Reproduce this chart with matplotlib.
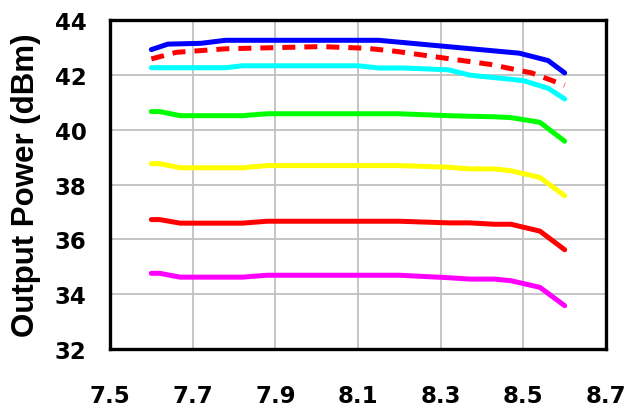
import matplotlib
matplotlib.use("Agg")
import matplotlib.pyplot as plt

# Frequency (GHz) sample points for each trace
freq_main = [7.60, 7.62, 7.67, 7.82, 7.88, 8.20, 8.32, 8.37, 8.43, 8.47, 8.54, 8.60]
freq_top = [7.60, 7.64, 7.72, 7.78, 8.15, 8.49, 8.56, 8.60]
freq_sat = [7.60, 7.66, 7.78, 8.01, 8.12, 8.19, 8.42, 8.52, 8.60]
freq_cyan = [7.60, 7.78, 7.82, 8.10, 8.15, 8.21, 8.32, 8.37, 8.50, 8.56, 8.60]

# Output power (dBm)
p_blue = [42.92, 43.12, 43.15, 43.26, 43.26, 42.79, 42.52, 42.07]
p_red_dash = [42.58, 42.82, 42.95, 43.03, 42.97, 42.86, 42.38, 42.07, 41.62]
p_cyan = [42.26, 42.26, 42.33, 42.33, 42.25, 42.25, 42.18, 41.99, 41.79, 41.51, 41.12]
p_green = [40.66, 40.66, 40.51, 40.51, 40.58, 40.58, 40.51, 40.49, 40.47, 40.44, 40.27, 39.58]
p_yellow = [38.76, 38.76, 38.61, 38.61, 38.69, 38.69, 38.63, 38.57, 38.57, 38.50, 38.26, 37.59]
p_red = [36.72, 36.72, 36.59, 36.59, 36.66, 36.66, 36.60, 36.60, 36.55, 36.55, 36.30, 35.62]
p_magenta = [34.76, 34.76, 34.62, 34.62, 34.69, 34.69, 34.60, 34.55, 34.55, 34.49, 34.25, 33.58]

x_ticks = [7.5, 7.7, 7.9, 8.1, 8.3, 8.5, 8.7]
y_ticks = [32, 34, 36, 38, 40, 42, 44]

plt.rcParams['font.family'] = ['Liberation Sans', 'DejaVu Sans']
plt.rcParams['font.weight'] = 'bold'

fig = plt.figure(figsize=(6.34, 4.14), dpi=100)
ax = fig.add_axes([110 / 634, 64 / 414, 496 / 634, 329 / 414])

lw = 3.6
style = dict(lw=lw, solid_capstyle='round', solid_joinstyle='round')
ax.plot(freq_main, p_magenta, color='#ff00ff', **style)
ax.plot(freq_main, p_red, color='#ff0000', **style)
ax.plot(freq_main, p_yellow, color='#ffff00', **style)
ax.plot(freq_main, p_green, color='#00ff00', **style)
ax.plot(freq_cyan, p_cyan, color='#00ffff', **style)
ax.plot(freq_sat, p_red_dash, color='#ff0000', lw=lw, dashes=(2.6, 1.8),
        dash_capstyle='butt')
ax.plot(freq_top, p_blue, color='#0000ff', **style)

ax.set_xlim(7.5, 8.7)
ax.set_ylim(32, 44)
ax.set_xticks(x_ticks)
ax.set_xticklabels([f"{v:.1f}" for v in x_ticks])
ax.set_yticks(y_ticks)
ax.set_yticklabels([str(v) for v in y_ticks])
ax.grid(True, color='#c0c0c0', lw=1.3)
ax.set_axisbelow(True)
ax.tick_params(axis='both', length=0)
ax.tick_params(axis='y', pad=17)
ax.tick_params(axis='x', pad=25)
for lab in ax.get_xticklabels() + ax.get_yticklabels():
    lab.set_fontfamily(['DejaVu Sans'])
    lab.set_fontsize(16.5)
    lab.set_fontweight('bold')
for sp in ax.spines.values():
    sp.set_linewidth(2.4)
    sp.set_color('black')
    sp.set_joinstyle('round')

ax.set_ylabel('Output Power (dBm)', fontsize=22.5, fontweight='bold')
ax.yaxis.set_label_coords(-0.139, 0.5)

fig.savefig('out.png', dpi=100)
